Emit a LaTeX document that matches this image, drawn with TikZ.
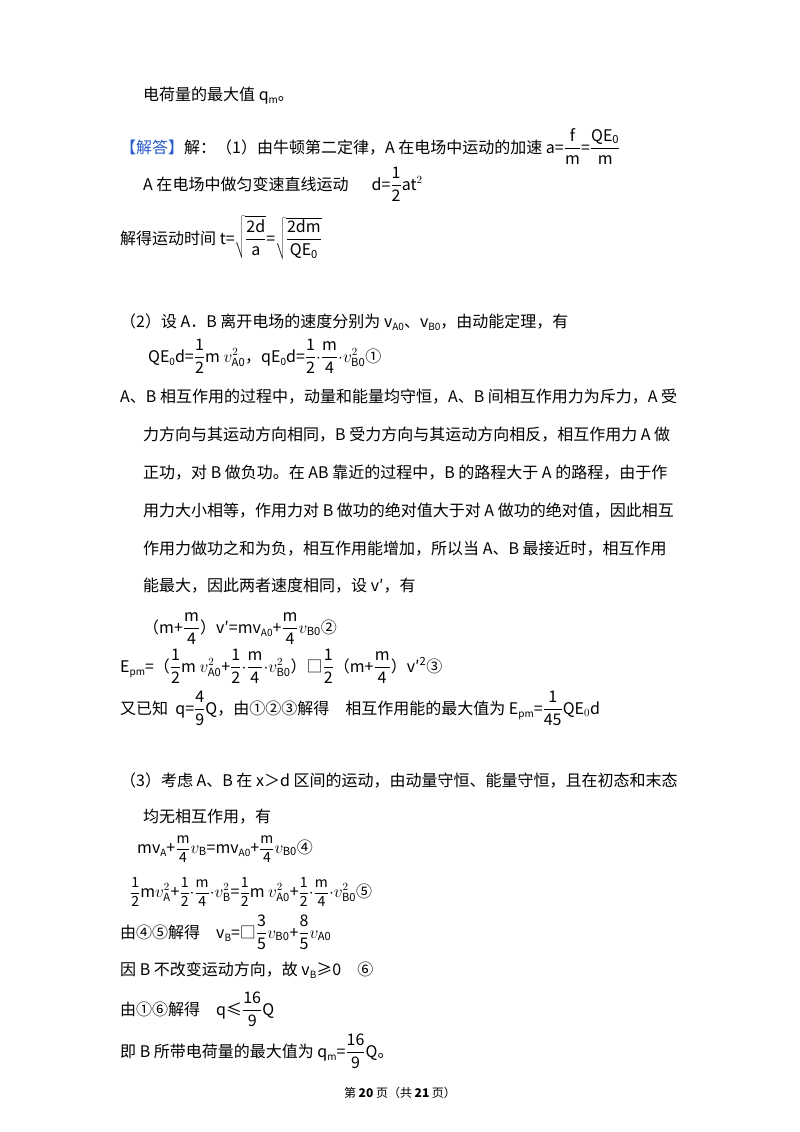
\documentclass[tikz,border=0pt]{standalone}
\usepackage{fontspec}
\setmainfont{Noto Sans CJK SC}
\newcommand{\lsub}[1]{\raisebox{-0.35ex}{\fontsize{10}{10}\selectfont #1}}
\newcommand{\fr}[2]{$\displaystyle\frac{\mathrm{#1}}{\mathrm{#2}}$}
\newcommand{\sfr}[2]{{\fontsize{14}{14}\selectfont$\displaystyle\frac{\mathrm{#1}}{\mathrm{#2}}$}}
\definecolor{ansblue}{RGB}{40,90,200}
\begin{document}
\begin{tikzpicture}[x=1pt,y=-1pt,
  t/.style={anchor=base west,inner sep=0pt,font=\fontsize{16}{16}\selectfont}]
\useasboundingbox (0,0) rectangle (800,1132);
\node[t] (l1) at (143,100) {电荷量的最大值 q\lsub{m}。};
\node[t] (l2) at (120,153) {\textcolor{ansblue}{【解答】}解：（1）由牛顿第二定律，A 在电场中运动的加速 a=\fr{f}{m}=\fr{QE_0}{m}};
\node[t] (l3) at (143,190) {A 在电场中做匀变速直线运动\quad\ \ d=\fr{1}{2}at$^2$};
\node[t] (l4) at (120,244) {解得运动时间 t=$\sqrt{\displaystyle\frac{\mathrm{2d}}{\mathrm{a}}}$=$\sqrt{\displaystyle\frac{\mathrm{2dm}}{\mathrm{QE_0}}}$};
\node[t] (l5) at (120,327) {（2）设 A．B 离开电场的速度分别为 v\lsub{A0}、v\lsub{B0}，由动能定理，有};
\node[t] (l6) at (148,362) {QE\lsub{0}d=\fr{1}{2}m $v^2_{\mathrm{A0}}$，qE\lsub{0}d=\fr{1}{2}$\cdot$\fr{m}{4}$\cdot v^2_{\mathrm{B0}}$①};
\node[t] (l7) at (120,402) {A、B 相互作用的过程中，动量和能量均守恒，A、B 间相互作用力为斥力，A 受};
\node[t] (l8) at (143,440) {力方向与其运动方向相同，B 受力方向与其运动方向相反，相互作用力 A 做};
\node[t] (l9) at (143,478) {正功，对 B 做负功。在 AB 靠近的过程中，B 的路程大于 A 的路程，由于作};
\node[t] (l10) at (143,516) {用力大小相等，作用力对 B 做功的绝对值大于对 A 做功的绝对值，因此相互};
\node[t] (l11) at (143,554) {作用力做功之和为负，相互作用能增加，所以当 A、B 最接近时，相互作用};
\node[t] (l12) at (143,591) {能最大，因此两者速度相同，设 v′，有};
\node[t] (l13) at (143,633) {（m+\fr{m}{4}）v′=mv\lsub{A0}+\fr{m}{4}$v_{\mathrm{B0}}$②};
\node[t] (l14) at (120,672) {E\lsub{pm}=（\fr{1}{2}m $v^2_{\mathrm{A0}}$+\fr{1}{2}$\cdot$\fr{m}{4}$\cdot v^2_{\mathrm{B0}}$）□\fr{1}{2}（m+\fr{m}{4}）v′\textsuperscript{2}③};
\node[t] (l15) at (120,714) {又已知\ \ q=\fr{4}{9}Q，由①②③解得\quad 相互作用能的最大值为 E\lsub{pm}=\fr{1}{45}QE$_0$d};
\node[t] (l16) at (120,786) {（3）考虑 A、B 在 x＞d 区间的运动，由动量守恒、能量守恒，且在初态和末态};
\node[t] (l17) at (143,822) {均无相互作用，有};
\node[t] (l18) at (137,853) {mv\lsub{A}+\sfr{m}{4}$v_{\mathrm{B}}$=mv\lsub{A0}+\sfr{m}{4}$v_{\mathrm{B0}}$④};
\node[t] (l19) at (130,897) {\sfr{1}{2}m$v^2_{\mathrm{A}}$+\sfr{1}{2}$\cdot$\sfr{m}{4}$\cdot v^2_{\mathrm{B}}$=\sfr{1}{2}m $v^2_{\mathrm{A0}}$+\sfr{1}{2}$\cdot$\sfr{m}{4}$\cdot v^2_{\mathrm{B0}}$⑤};
\node[t] (l20) at (120,938) {由④⑤解得\quad v\lsub{B}=□\fr{3}{5}$v_{\mathrm{B0}}$+\fr{8}{5}$v_{\mathrm{A0}}$};
\node[t] (l21) at (120,975) {因 B 不改变运动方向，故 v\lsub{B}≥0\quad ⑥};
\node[t] (l22) at (120,1015) {由①⑥解得\quad q≤\fr{16}{9}Q};
\node[t] (l23) at (120,1057) {即 B 所带电荷量的最大值为 q\lsub{m}=\fr{16}{9}Q。};
\node[anchor=base,inner sep=0pt,font=\fontsize{12}{12}\selectfont] (ft) at (400,1097) {第 \textbf{20} 页（共 \textbf{21} 页）};
\end{tikzpicture}
\end{document}
